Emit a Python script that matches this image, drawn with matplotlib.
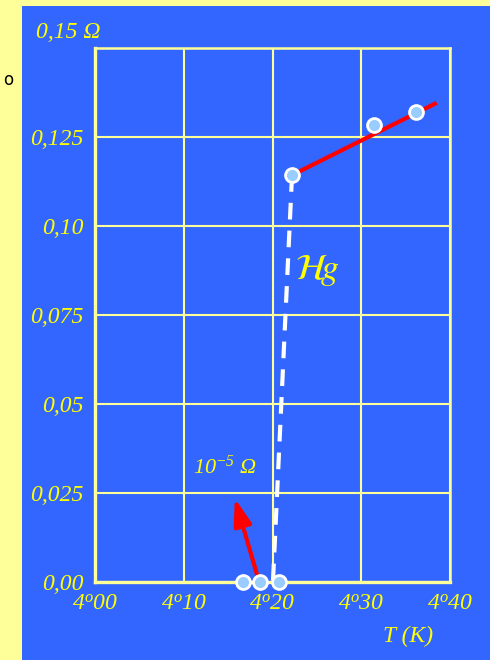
import matplotlib
matplotlib.use("Agg")
import matplotlib.pyplot as plt
from matplotlib.patches import Rectangle

matplotlib.rcParams['mathtext.fontset'] = 'custom'
matplotlib.rcParams['mathtext.rm'] = 'Liberation Serif:italic'
matplotlib.rcParams['mathtext.it'] = 'Liberation Serif:italic'
matplotlib.rcParams['lines.scale_dashes'] = False

# mesures de la résistance du mercure
T_mes = [4.167, 4.186, 4.207, 4.222, 4.314, 4.362]
R_mes = [0.0, 0.0, 0.0, 0.1143, 0.1284, 0.1320]

# droite au-dessus de la transition et chute brutale
T_droite = [4.222, 4.385]
R_droite = [0.1143, 0.1346]
T_chute = [4.222, 4.2005]
R_chute = [0.1143, 0.0]

# flèche vers le résidu de 10^-5 ohm
fleche_debut = (4.1837, 0.0011)
fleche_fin = (4.1575, 0.0235)

x_ticks = [4.00, 4.10, 4.20, 4.30, 4.40]
x_labels = [r'$4^{o}00$', r'$4^{o}10$', r'$4^{o}20$', r'$4^{o}30$', r'$4^{o}40$']
y_ticks = [0.0, 0.025, 0.05, 0.075, 0.10, 0.125, 0.15]
y_labels = ['0,00', '0,025', '0,05', '0,075', '0,10', '0,125', '']

jaune = '#FFFF00'
grille = '#FFFF99'
bleu = '#3366FF'
serif_it = dict(fontfamily='Liberation Serif', fontstyle='italic')

fig = plt.figure(figsize=(4.9, 6.6), dpi=100, facecolor='#FFFF99')
fig.patches.append(Rectangle((22 / 490, 0), 1, 1 - 6 / 660, transform=fig.transFigure,
                             facecolor=bleu, edgecolor='none', zorder=-1))
fig.text(8 / 490, 1 - 80 / 660, 'o', fontsize=12, color='black', ha='center', va='center')

ax = fig.add_axes([95 / 490, 78 / 660, 355 / 490, 534 / 660])
ax.set_facecolor(bleu)
ax.set_xlim(4.0, 4.4)
ax.set_ylim(0.0, 0.15)
ax.set_xticks(x_ticks)
ax.set_xticklabels(x_labels, fontsize=17, color=jaune)
ax.set_yticks(y_ticks)
ax.set_yticklabels(y_labels, fontsize=17, color=jaune, **serif_it)
ax.tick_params(axis='y', length=0, pad=8)
ax.tick_params(axis='x', length=0, pad=6)
ax.grid(True, color=grille, lw=1.5)
ax.set_axisbelow(True)
for s in ax.spines.values():
    s.set_color(grille)
    s.set_linewidth(1.8)
ax.spines['left'].set_linewidth(2.4)
ax.spines['bottom'].set_linewidth(2.4)

ax.plot(T_droite, R_droite, color='red', lw=3, solid_capstyle='butt', zorder=3)
ax.plot(T_chute, R_chute, color='white', lw=3, dashes=(12, 8), zorder=3)
ax.annotate('', xy=fleche_fin, xytext=fleche_debut,
            arrowprops=dict(arrowstyle='-|>,head_length=0.9,head_width=0.3', color='red',
                            lw=3, mutation_scale=18, shrinkA=0, shrinkB=0), zorder=3)
ax.plot(T_mes, R_mes, 'o', ms=10, mfc='#99CCFF', mec='white', mew=2, clip_on=False, zorder=4)

ax.text(4.251, 0.0876, r'$\mathcal{H}\!\mathit{g}$', fontsize=26, color=jaune,
        ha='center', va='center', math_fontfamily='stix')
ax.text(4.110, 0.0323, r'$10^{-5}$ Ω', fontsize=16, color=jaune, ha='left', va='center',
        **serif_it)

fig.text(100 / 490, 1 - 32 / 660, '0,15 Ω', fontsize=17, color=jaune,
         ha='right', va='center', **serif_it)
fig.text(408 / 490, 1 - 636 / 660, 'T (K)', fontsize=17, color=jaune,
         ha='center', va='center', **serif_it)

fig.savefig('out.png', dpi=100, facecolor=fig.get_facecolor())
